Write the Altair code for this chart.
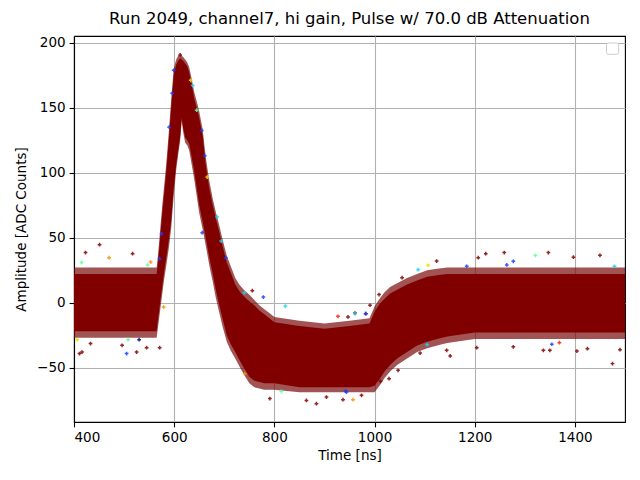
import altair as alt
import pandas as pd

TITLE = "Run 2049, channel7, hi gain, Pulse w/ 70.0 dB Attenuation"
X_TITLE = "Time [ns]"
Y_TITLE = "Amplitude [ADC Counts]"
X_TICKS = [400, 600, 800, 1000, 1200, 1400]
Y_TICKS = [-50, 0, 50, 100, 150, 200]

# time samples (ns) at which the envelope of the overlaid traces was read
t_ns = [400, 565, 568, 572, 576, 580, 584, 589, 594, 599, 604, 608, 612, 615, 618,
        622, 626, 630, 635, 640, 645, 650, 657, 663, 670, 677, 683, 689, 697, 705,
        713, 722, 730, 739, 750, 760, 770, 780, 790, 800, 850, 900, 950, 990, 1000,
        1010, 1020, 1031, 1045, 1065, 1085, 1105, 1125, 1145, 1200, 1500]
# dense core of the traces: upper / lower edge (ADC counts)
core_hi = [22, 22, 32, 50, 68, 84, 100, 124, 150, 175, 183, 186, 188, 187, 186,
           184, 182, 177, 168, 157, 150, 142, 128, 106, 88, 75, 65, 56, 43, 31,
           23, 14, 9, 5, 1, -2, -6, -9, -12, -15, -18, -20, -18, -16, -7,
           -1, 3, 7, 10, 14, 17, 20, 21, 22, 22, 22]
core_lo = [-22, -22, -12, 0, 12, 24, 34, 47, 63, 88, 106, 117, 128, 142, 134,
           127, 125, 122, 112, 101, 88, 75, 62, 50, 35, 22, 10, 0, -13, -25,
           -32, -38, -44, -50, -57, -60, -61, -62, -62, -62, -65, -65, -65, -65, -64,
           -59, -53, -48, -43, -38, -33, -30, -28, -26, -23, -23]
# sparse fringe around the core
fringe_hi = [27, 27, 38, 56, 74, 90, 106, 130, 156, 180, 187, 190, 191, 190, 189,
             187, 185, 181, 172, 162, 155, 147, 133, 112, 94, 80, 70, 61, 48, 36,
             28, 19, 14, 10, 6, 2, -2, -5, -8, -11, -14, -16, -14, -12, -3,
             3, 8, 12, 15, 19, 22, 25, 26, 27, 27, 27]
fringe_lo = [-27, -27, -18, -6, 6, 18, 28, 41, 57, 82, 102, 114, 125, 140, 131,
             123, 121, 117, 106, 95, 82, 69, 56, 44, 29, 16, 4, -6, -19, -30,
             -37, -43, -49, -55, -62, -65, -66, -67, -67, -67, -69, -69, -69, -69, -69,
             -64, -58, -53, -48, -43, -38, -35, -33, -31, -28, -28]

# isolated outlier samples
out_t = [451, 423, 517, 470, 415, 411, 416, 505, 525, 571, 496, 545, 406, 508, 530,
         433, 778, 756, 740, 822, 791, 814, 864, 884, 904, 957, 942, 927, 961, 982,
         741, 1321, 1347, 1259, 1222, 1207, 1450, 1397, 1475, 1151, 1204, 1277, 1337,
         1350, 1404, 1425, 1490, 1369, 1354, 1105, 1047, 1091, 1087, 1124, 1277, 1264,
         1184, 1107, 1479, 599, 633, 637, 596, 590, 645, 655, 661, 666, 656, 686, 694,
         703, 575, 571, 579, 553, 547, 1009, 991, 983, 961, 947, 1055, 1029, 1012,
         937, 974, 944, 1144, 612]
out_v = [44.6, 38.5, 37.7, 34.6, 30.8, -39.2, -38, -39.2, -38, -34.6, -32.8, -34.6, -28.5, -28.5, -28.5,
         -31.5, 4.3, 9.2, 7.7, -2.6, -73.8, -68.2, -75.2, -77.7, -72.6, -74.6, -68, -10.5, -8, -8.5,
         -54.6, 36.4, 38.5, 38.5, 37.7, 34.6, 36.4, 35, -46.9, -41, -34.6, -34, -36.7,
         -36.7, -37.2, -35.4, -36.2, -30.8, -32, -32.3, -52, -38.8, 25.4, 32, 31.8, 29,
         28, 28.7, 28, 178.7, 171, 167, 161, 135, 148, 132.5, 113, 96.6, 53.8, 65.8, 47.4,
         34.6, 53, 33.8, -3.4, 31.2, 29, 6.2, -2, -8.5, -8.5, -11, 19.2, -58.5, -60.5,
         -74.6, -71.3, -68.8, -36.7, 190.5]
out_c = ["m", "m", "m", "o", "g", "m", "m", "b", "m", "m", "m", "m", "y", "g", "n",
         "m", "b", "m", "c", "c", "m", "g", "m", "m", "m", "o", "b", "r", "m", "m",
         "o", "g", "m", "m", "m", "m", "m", "m", "m", "m", "m", "m", "m",
         "m", "m", "m", "m", "r", "b", "c", "m", "m", "c", "m", "b", "b",
         "b", "y", "c", "b", "y", "c", "b", "b", "g", "b", "b", "y", "b", "c", "c",
         "b", "b", "b", "o", "o", "g", "m", "m", "b", "c", "m", "m", "m", "m",
         "m", "m", "b", "m", "m"]
COLORS = {"m": "#800000", "b": "#1a3cff", "c": "#19d3f3", "g": "#5cffa0",
          "y": "#e8e000", "o": "#ff8c00", "r": "#ff2000", "n": "#00007f"}

env = pd.DataFrame({"t": t_ns, "hi": core_hi, "lo": core_lo,
                    "fhi": fringe_hi, "flo": fringe_lo})
pts = pd.DataFrame({"t": out_t, "v": out_v, "col": [COLORS[c] for c in out_c]})

xs = alt.Scale(domain=[400, 1500], nice=False, zero=False)
ys = alt.Scale(domain=[-91.8, 205.1], nice=False, zero=False)
xax = alt.Axis(values=X_TICKS, title=X_TITLE, format="d")
yax = alt.Axis(values=Y_TICKS, title=Y_TITLE, format="d")

base = alt.Chart(env)
fringe = base.mark_area(color="#7a0a0a", opacity=0.7, clip=True).encode(
    x=alt.X("t:Q", scale=xs, axis=xax),
    y=alt.Y("fhi:Q", scale=ys, axis=yax),
    y2="flo:Q",
)
core = base.mark_area(color="#800000", opacity=1, clip=True).encode(
    x=alt.X("t:Q", scale=xs),
    y=alt.Y("hi:Q", scale=ys),
    y2="lo:Q",
)
outl = alt.Chart(pts).mark_point(shape="cross", filled=True, size=14, opacity=0.85,
                                 clip=True).encode(
    x=alt.X("t:Q", scale=xs),
    y=alt.Y("v:Q", scale=ys),
    color=alt.Color("col:N", scale=None),
)
legend_box = alt.Chart(pd.DataFrame({"k": [0]})).mark_rect(
    fill="white", stroke="#cccccc", strokeWidth=1, cornerRadius=2
).encode(x=alt.value(532.5), x2=alt.value(544.7), y=alt.value(7), y2=alt.value(18.3))

chart = alt.layer(fringe, core, outl, legend_box).properties(
    width=551, height=386,
    title=alt.Title(TITLE, fontSize=16.5, font="DejaVu Sans", fontWeight="normal",
                    color="black", offset=8),
    autosize=alt.AutoSizeParams(type="none"),
    padding={"left": 66, "top": 28, "right": 7, "bottom": 50},
).configure_view(stroke="black", strokeWidth=1.1).configure_axis(
    labelFont="DejaVu Sans", titleFont="DejaVu Sans", labelFontSize=13.5,
    titleFontSize=13.5, titleFontWeight="normal", labelColor="black",
    titleColor="black", domainColor="black", domainWidth=1.1, tickColor="black",
    tickSize=4.9, tickWidth=1.1, labelPadding=4, gridColor="#b0b0b0",
    gridWidth=1.1, zindex=1,
).configure_axisX(titlePadding=4).configure_axisY(titlePadding=8)

chart.save("out.html", embed_options={"renderer": "svg", "actions": False})
